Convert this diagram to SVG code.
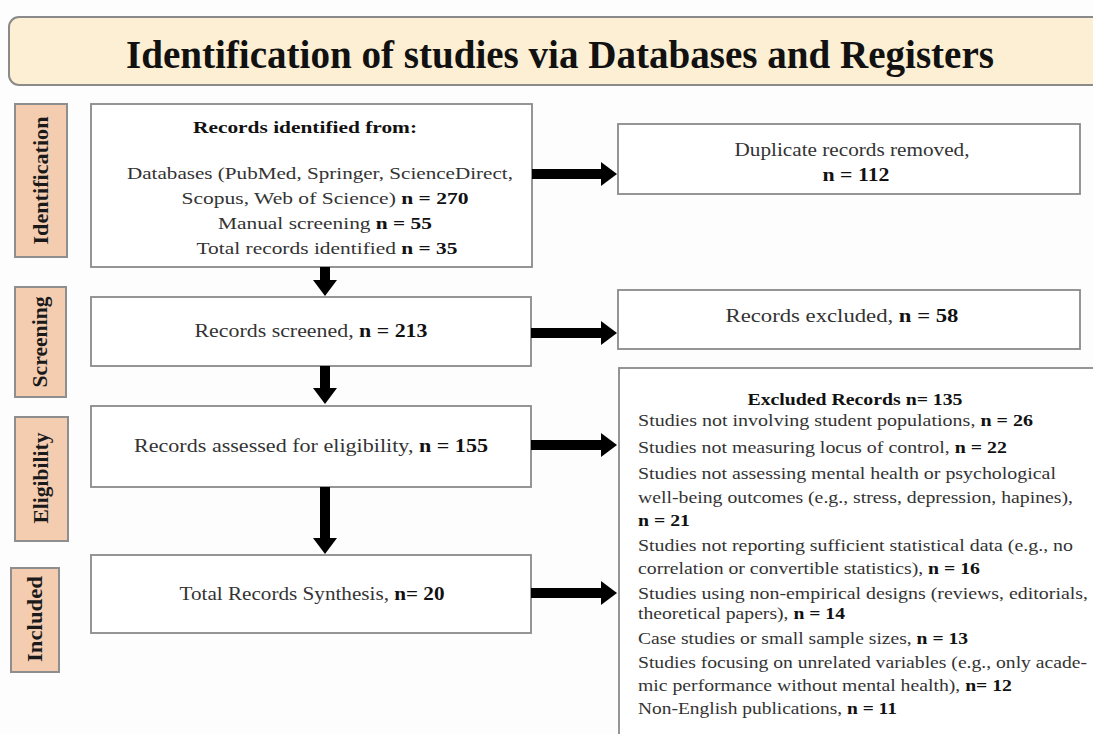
<svg xmlns="http://www.w3.org/2000/svg" width="1093" height="734" viewBox="0 0 1093 734">
<defs>
<style>
.bg{fill:#fdfdfd}
.hdr{fill:#fcefd3;stroke:#8a8a8a;stroke-width:2}
.side{fill:#f4cdb1;stroke:#8e8e8e;stroke-width:2}
.box{fill:#ffffff;stroke:#8a8a8a;stroke-width:1.8}
.t{font-family:"Liberation Serif","Times New Roman",serif;fill:#333333}
.c{text-anchor:middle}
.b{font-weight:bold;fill:#111}
.sl{font-family:"Liberation Serif","Times New Roman",serif;font-weight:bold;font-size:20px;fill:#1a1a1a;text-anchor:middle}
.conn{stroke:#000;stroke-width:10;fill:none}
</style>
<marker id="ah" markerUnits="userSpaceOnUse" markerWidth="16" markerHeight="24" refX="1" refY="12" orient="auto">
<path d="M0,0 L16,12 L0,24 Z" fill="#000"/>
</marker>
</defs>
<rect class="bg" x="0" y="0" width="1093" height="734"/>

<g id="header">
<rect class="hdr" x="9" y="17" width="1100" height="68" rx="10"/>
<text class="t b c" x="560" y="68" font-size="41" textLength="868" lengthAdjust="spacingAndGlyphs">Identification of studies via Databases and Registers</text>
</g>

<g id="stage-identification">
<rect class="side" x="15" y="104" width="52" height="153"/>
<text class="sl" transform="translate(48,180.5) rotate(-90)" textLength="128" lengthAdjust="spacingAndGlyphs">Identification</text>
</g>
<g id="stage-screening">
<rect class="side" x="15" y="287" width="51" height="110"/>
<text class="sl" transform="translate(47,342) rotate(-90)" textLength="91" lengthAdjust="spacingAndGlyphs">Screening</text>
</g>
<g id="stage-eligibility">
<rect class="side" x="15" y="417" width="53" height="124"/>
<text class="sl" transform="translate(48,478) rotate(-90)" textLength="91" lengthAdjust="spacingAndGlyphs">Eligibility</text>
</g>
<g id="stage-included">
<rect class="side" x="11" y="568" width="48" height="104"/>
<text class="sl" transform="translate(42,619) rotate(-90)" textLength="86" lengthAdjust="spacingAndGlyphs">Included</text>
</g>

<g id="records-identified">
<rect class="box" x="91" y="104" width="441" height="163"/>
<text class="t c b" x="305" y="133" font-size="17" textLength="224" lengthAdjust="spacingAndGlyphs">Records identified from:</text>
<text class="t c" x="320" y="179" font-size="17.5" textLength="386" lengthAdjust="spacingAndGlyphs">Databases (PubMed, Springer, ScienceDirect,</text>
<text class="t c" x="325" y="204" font-size="17.5" textLength="287" lengthAdjust="spacingAndGlyphs">Scopus, Web of Science) <tspan class="b">n = 270</tspan></text>
<text class="t c" x="325" y="229" font-size="17.5" textLength="214" lengthAdjust="spacingAndGlyphs">Manual screening <tspan class="b">n = 55</tspan></text>
<text class="t c" x="327" y="254" font-size="17.5" textLength="261" lengthAdjust="spacingAndGlyphs">Total records identified <tspan class="b">n = 35</tspan></text>
</g>

<g id="records-screened">
<rect class="box" x="91" y="297" width="440" height="69"/>
<text class="t c" x="311" y="337" font-size="18.5" textLength="233" lengthAdjust="spacingAndGlyphs">Records screened, <tspan class="b">n = 213</tspan></text>
</g>

<g id="records-assessed">
<rect class="box" x="91" y="406" width="440" height="81"/>
<text class="t c" x="311" y="452" font-size="18.5" textLength="354" lengthAdjust="spacingAndGlyphs">Records assessed for eligibility, <tspan class="b">n = 155</tspan></text>
</g>

<g id="records-synthesis">
<rect class="box" x="91" y="555" width="440" height="78"/>
<text class="t c" x="312" y="600" font-size="18.5" textLength="265" lengthAdjust="spacingAndGlyphs">Total Records Synthesis, <tspan class="b">n= 20</tspan></text>
</g>

<g id="duplicates-removed">
<rect class="box" x="618" y="124" width="462" height="70"/>
<text class="t c" x="852" y="156" font-size="18" textLength="235" lengthAdjust="spacingAndGlyphs">Duplicate records removed,</text>
<text class="t c b" x="856" y="181" font-size="18" textLength="67" lengthAdjust="spacingAndGlyphs">n = 112</text>
</g>

<g id="records-excluded">
<rect class="box" x="618" y="290" width="462" height="59"/>
<text class="t c" x="842" y="322" font-size="18" textLength="233" lengthAdjust="spacingAndGlyphs">Records excluded,  <tspan class="b">n = 58</tspan></text>
</g>

<g id="excluded-records">
<rect class="box" x="619" y="368" width="500" height="400"/>
<text class="t c b" x="855" y="405" font-size="17" textLength="215" lengthAdjust="spacingAndGlyphs">Excluded Records n= 135</text>
<text class="t" x="638" y="426" font-size="17" textLength="395" lengthAdjust="spacingAndGlyphs">Studies not involving student populations, <tspan class="b">n = 26</tspan></text>
<text class="t" x="638" y="453" font-size="17" textLength="369" lengthAdjust="spacingAndGlyphs">Studies not measuring locus of control, <tspan class="b">n = 22</tspan></text>
<text class="t" x="638" y="479" font-size="17" textLength="418" lengthAdjust="spacingAndGlyphs">Studies not assessing mental health or psychological</text>
<text class="t" x="638" y="503" font-size="17" textLength="435" lengthAdjust="spacingAndGlyphs">well-being outcomes (e.g., stress, depression, hapines),</text>
<text class="t b" x="638" y="526" font-size="17" textLength="52" lengthAdjust="spacingAndGlyphs">n = 21</text>
<text class="t" x="638" y="551" font-size="17" textLength="435" lengthAdjust="spacingAndGlyphs">Studies not reporting sufficient statistical data (e.g., no</text>
<text class="t" x="638" y="574" font-size="17" textLength="342" lengthAdjust="spacingAndGlyphs">correlation or convertible statistics), <tspan class="b">n = 16</tspan></text>
<text class="t" x="638" y="599" font-size="17" textLength="450" lengthAdjust="spacingAndGlyphs">Studies using non-empirical designs (reviews, editorials,</text>
<text class="t" x="638" y="619" font-size="17" textLength="207" lengthAdjust="spacingAndGlyphs">theoretical papers), <tspan class="b">n = 14</tspan></text>
<text class="t" x="638" y="644" font-size="17" textLength="330" lengthAdjust="spacingAndGlyphs">Case studies or small sample sizes, <tspan class="b">n = 13</tspan></text>
<text class="t" x="638" y="668" font-size="17" textLength="449" lengthAdjust="spacingAndGlyphs">Studies focusing on unrelated variables (e.g., only acade-</text>
<text class="t" x="638" y="691" font-size="17" textLength="374" lengthAdjust="spacingAndGlyphs">mic performance without mental health), <tspan class="b">n= 12</tspan></text>
<text class="t" x="638" y="714" font-size="17" textLength="259" lengthAdjust="spacingAndGlyphs">Non-English publications, <tspan class="b">n = 11</tspan></text>
</g>

<g id="connectors">
<line class="conn" x1="325" y1="267" x2="325" y2="281" marker-end="url(#ah)"/>
<line class="conn" x1="325" y1="366" x2="325" y2="389" marker-end="url(#ah)"/>
<line class="conn" x1="325" y1="487" x2="325" y2="539" marker-end="url(#ah)"/>
<line class="conn" x1="532" y1="174" x2="602" y2="174" marker-end="url(#ah)"/>
<line class="conn" x1="531" y1="333" x2="602" y2="333" marker-end="url(#ah)"/>
<line class="conn" x1="531" y1="445" x2="602" y2="445" marker-end="url(#ah)"/>
<line class="conn" x1="531" y1="593" x2="602" y2="593" marker-end="url(#ah)"/>
</g>
</svg>
